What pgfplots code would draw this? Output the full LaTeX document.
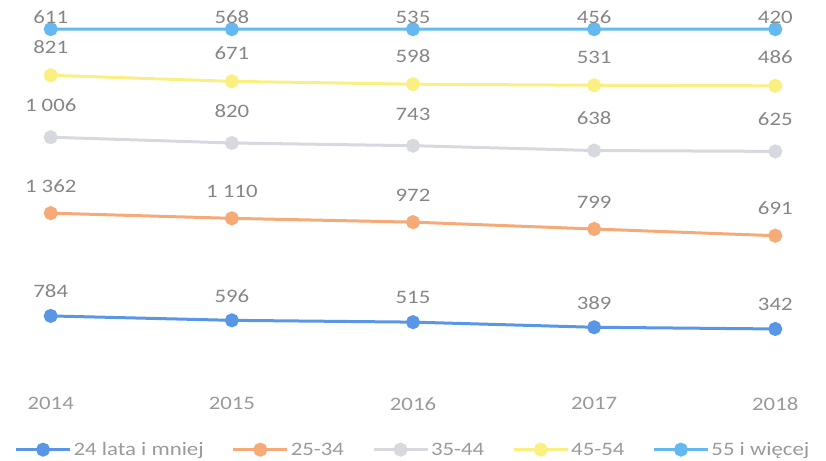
\documentclass[border=0pt]{standalone}
\usepackage{pgfplots}
\usepackage{pgfplotstable}
\pgfplotsset{compat=1.18}
\usepackage{fontspec}
\setmainfont{Carlito}[FakeStretch=1.2]
\definecolor{cA}{HTML}{5A96E6}
\definecolor{cB}{HTML}{F5AA78}
\definecolor{cC}{HTML}{D8D9DE}
\definecolor{cD}{HTML}{FAF082}
\definecolor{cE}{HTML}{64B9F0}
\definecolor{txt}{HTML}{868686}
\definecolor{txtl}{HTML}{9A9A9A}
\pgfplotstableread{
year a b c d e
2014 784 1362 1006 821 611
2015 596 1110 820 671 568
2016 515 972 743 598 535
2017 389 799 638 531 456
2018 342 691 625 486 420
}\data
\newcommand{\tot}{(\thisrow{a}+\thisrow{b}+\thisrow{c}+\thisrow{d}+\thisrow{e})}
\begin{document}
\begin{tikzpicture}
\begin{axis}[
  scale only axis, width=826pt, height=375pt,
  xmin=2013.72, xmax=2018.28, ymin=0, ymax=108.4,
  axis line style={draw=none}, ytick=\empty,
  xtick={2014,2015,2016,2017,2018},
  xticklabels={2014,2015,2016,2017,2018},
  major tick length=0pt,
  xticklabel style={font=\fontsize{19}{22}\selectfont, text=txtl, yshift=-19pt},
  /pgf/number format/assume math mode=true,
  stack plots=y,
  every axis plot/.append style={line width=3pt, mark=*, mark size=5.5pt},
  nodes near coords={\pgfmathprintnumber[assume math mode=true,fixed,precision=0,1000 sep={~}]{\pgfplotspointmeta}},
  every node near coord/.append style={font=\fontsize{19}{22}\selectfont, text=txt, anchor=south, inner sep=2pt},
  point meta=explicit,
  legend columns=5,
  legend style={draw=none, fill=none, at={(0.5,0)}, anchor=north, yshift=-63pt,
    font=\fontsize{19}{22}\selectfont, text=txtl, /tikz/every even column/.append style={column sep=26pt}},
  legend image code/.code={\draw[mark repeat=2,mark phase=2,#1] plot coordinates {(0pt,0pt) (27pt,0pt) (54pt,0pt)};},
]
\addplot[color=cA, every node near coord/.append style={yshift=14.5pt}] table[x=year, y expr={\thisrow{a}/\tot*100}, meta=a] {\data};
\addlegendentry{24 lata i mniej}
\addplot[color=cB, every node near coord/.append style={yshift=17.5pt}] table[x=year, y expr={\thisrow{b}/\tot*100}, meta=b] {\data};
\addlegendentry{25-34}
\addplot[color=cC, every node near coord/.append style={yshift=22pt}] table[x=year, y expr={\thisrow{c}/\tot*100}, meta=c] {\data};
\addlegendentry{35-44}
\addplot[color=cD, every node near coord/.append style={yshift=18.5pt}] table[x=year, y expr={\thisrow{d}/\tot*100}, meta=d] {\data};
\addlegendentry{45-54}
\addplot[color=cE, every node near coord/.append style={yshift=2pt}] table[x=year, y expr={\thisrow{e}/\tot*100}, meta=e] {\data};
\addlegendentry{55 i więcej}
\end{axis}
\end{tikzpicture}
\end{document}
